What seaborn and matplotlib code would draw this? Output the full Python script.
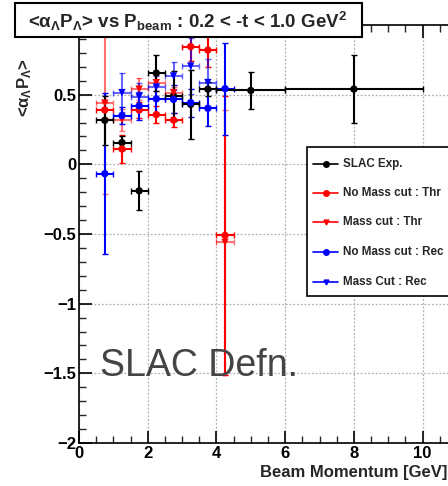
import numpy as np
import pandas as pd
import matplotlib
matplotlib.use("Agg")
import matplotlib.pyplot as plt
from matplotlib.patches import Rectangle
from matplotlib.lines import Line2D
from matplotlib.ticker import MultipleLocator
import seaborn as sns

# ---- data: <alpha_L P_L> versus beam momentum ----
bin_centers = [0.75, 1.25, 1.75, 2.25, 2.75, 3.25, 3.75, 4.25]
bin_halfwidth = [0.25, 0.25, 0.25, 0.25, 0.25, 0.25, 0.25, 0.25]

slac_p = [0.75, 1.25, 1.75, 2.25, 2.75, 3.25, 3.75, 5.0, 8.0]
slac_perr = [0.25, 0.25, 0.25, 0.25, 0.25, 0.25, 0.25, 1.0, 2.0]
slac_val = [0.316, 0.156, -0.19, 0.655, 0.49, 0.43, 0.54, 0.53, 0.54]
slac_err = [0.175, 0.05, 0.14, 0.13, 0.18, 0.25, 0.05, 0.13, 0.245]

thr_nocut_val = [0.39, 0.11, 0.39, 0.357, 0.318, 0.845, 0.82, -0.51]
thr_nocut_err = [0.06, 0.10, 0.06, 0.06, 0.05, 0.10, 0.12, 1.00]
thr_cut_val = [0.44, 0.32, 0.54, 0.586, 0.515, np.nan, np.nan, -0.56]
thr_cut_err = [0.65, 0.08, 0.08, 0.06, 0.04, np.nan, np.nan, 0.95]

rec_nocut_val = [-0.067, 0.35, 0.42, 0.47, 0.466, 0.443, 0.402, 0.543]
rec_nocut_err = [0.58, 0.06, 0.10, 0.10, 0.10, 0.10, 0.13, 0.33]
rec_cut_val = [np.nan, 0.515, 0.486, 0.555, 0.634, 0.705, 0.587, np.nan]
rec_cut_err = [np.nan, 0.14, 0.10, 0.08, 0.10, 0.20, 0.17, np.nan]

series_names = ["SLAC Exp.", "No Mass cut : Thr", "Mass cut : Thr",
                "No Mass cut : Rec", "Mass Cut : Rec"]
series_colors = ["black", "#ff0000", "#ff0000", "#0000ff", "#0000ff"]
series_markers = ["o", "o", "v", "o", "v"]
series_alpha = [1.0, 1.0, 0.55, 1.0, 0.6]

x_ticks = [0, 2, 4, 6, 8, 10]
y_ticks = [-2, -1.5, -1, -0.5, 0, 0.5]
y_tick_labels = ["\u22122", "\u22121.5", "\u22121", "\u22120.5", "0", "0.5"]


def frame(name, p, perr, val, err):
    return pd.DataFrame({"p": p, "perr": perr, "val": val, "err": err, "series": name})


df = pd.concat([
    frame(series_names[0], slac_p, slac_perr, slac_val, slac_err),
    frame(series_names[1], bin_centers, bin_halfwidth, thr_nocut_val, thr_nocut_err),
    frame(series_names[2], bin_centers, bin_halfwidth, thr_cut_val, thr_cut_err),
    frame(series_names[3], bin_centers, bin_halfwidth, rec_nocut_val, rec_nocut_err),
    frame(series_names[4], bin_centers, bin_halfwidth, rec_cut_val, rec_cut_err),
], ignore_index=True)

sns.set_theme(style="ticks")
plt.rcParams["font.family"] = ["Liberation Sans", "DejaVu Sans"]
plt.rcParams["mathtext.fontset"] = "custom"
plt.rcParams["mathtext.rm"] = "Liberation Sans:bold"
plt.rcParams["mathtext.it"] = "Liberation Sans:bold"
plt.rcParams["mathtext.bf"] = "Liberation Sans:bold"
plt.rcParams["axes.unicode_minus"] = True

W, H = 448, 486
fig = plt.figure(figsize=(W / 100, H / 100), dpi=100)
fig.patch.set_facecolor("white")


def fx(px):
    return px / W


def fy(py):
    return 1 - py / H


x0, x1 = 79, 457          # pixel positions of p = 0 and p = 11
y_top, y_bot = 25, 443    # pixel positions of 1 and -2
ax = fig.add_axes([fx(x0), fy(y_bot), (x1 - x0) / W, (y_bot - y_top) / H])
ax.set_xlim(0, 11)
ax.set_ylim(-2, 1)

# dotted grid at major ticks
ax.set_xticks(x_ticks)
ax.set_yticks(y_ticks)
ax.set_yticklabels(y_tick_labels)
ax.xaxis.set_minor_locator(MultipleLocator(0.5))
ax.yaxis.set_minor_locator(MultipleLocator(0.1))
ax.grid(True, which="major", color="#b0b0b0", linestyle=(0, (1.5, 1.5)), linewidth=0.9)

# error bars, drawn series by series
draw_order = [1, 2, 3, 4, 0]
for z, i in enumerate(draw_order, start=3):
    sub = df[df["series"] == series_names[i]].dropna(subset=["val"])
    ax.errorbar(sub["p"], sub["val"], xerr=sub["perr"], yerr=sub["err"], fmt="none",
                ecolor=series_colors[i], elinewidth=1.5, capsize=2.0, capthick=1.0,
                alpha=series_alpha[i], zorder=z)

# markers through seaborn
palette = dict(zip(series_names, series_colors))
markers = dict(zip(series_names, series_markers))
sns.scatterplot(data=df.dropna(subset=["val"]), x="p", y="val", hue="series",
                style="series", palette=palette, markers=markers, s=28,
                edgecolor="none", linewidth=0, legend=False, ax=ax, zorder=10)

ax.spines["right"].set_visible(False)
for s in ["left", "bottom", "top"]:
    ax.spines[s].set_linewidth(1.2)
    ax.spines[s].set_color("black")

ax.tick_params(axis="both", which="major", direction="in", length=9, width=1.2,
               top=True, right=False, labelsize=12, colors="black", pad=2)
ax.tick_params(axis="both", which="minor", direction="in", length=5, width=1.0,
               top=True, right=False)
for lab in ax.get_xticklabels() + ax.get_yticklabels():
    lab.set_fontweight("bold")
ax.set_xlabel("")
ax.set_ylabel("")

# free text in the plot area
ax.text(0.62, -1.52, "SLAC Defn.", fontsize=27, color="#444444",
        ha="left", va="baseline", zorder=12)

# axis titles
fig.text(fx(447), fy(472), "Beam Momentum [GeV]", fontsize=12, fontweight="bold",
         ha="right", va="center")
fig.text(fx(25), fy(88), r"<$\alpha_{\Lambda}$P$_{\Lambda}$>", fontsize=12,
         fontweight="bold", rotation=90, ha="center", va="center")

# title box
fig.patches.append(Rectangle((fx(15), fy(37)), (362 - 15) / W, 34 / H,
                             transform=fig.transFigure, facecolor="white",
                             edgecolor="black", linewidth=1.5, zorder=20))
fig.text(fx(188), fy(21),
         r"<$\alpha_{\Lambda}$P$_{\Lambda}$> vs P$_{\rm beam}$ : 0.2 < -t < 1.0 GeV$^{2}$",
         fontsize=13.5, fontweight="bold", ha="center", va="center", zorder=21)

# legend box with one row per series
fig.patches.append(Rectangle((fx(307), fy(296)), (460 - 307) / W, (296 - 147) / H,
                             transform=fig.transFigure, facecolor="white",
                             edgecolor="black", linewidth=1.2, zorder=20))
row_y = [164, 193, 222, 252, 282]
for name, c, m, py in zip(series_names, series_colors, series_markers, row_y):
    fig.lines.append(Line2D([fx(313), fx(338)], [fy(py), fy(py)], color=c,
                            linewidth=1.2, transform=fig.transFigure, zorder=21))
    fig.lines.append(Line2D([fx(325.5)], [fy(py)], color=c, marker=m, linestyle="none",
                            markersize=4 if m == "o" else 3.5,
                            transform=fig.transFigure, zorder=22))
    fig.text(fx(343), fy(py), name, fontsize=8.4, fontweight="bold",
             ha="left", va="center", zorder=22)

fig.savefig("out.png", dpi=100)
